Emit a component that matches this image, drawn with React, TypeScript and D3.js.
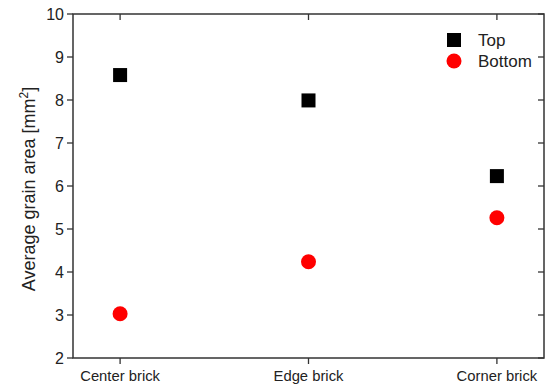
import React from "react";
import * as d3 from "d3";

const width = 545;
const height = 387;
const margin = { top: 14, right: 1, bottom: 29, left: 73 };

const categories = ["Center brick", "Edge brick", "Corner brick"];
const topValues = [8.58, 7.99, 6.23];
const bottomValues = [3.03, 4.24, 5.26];
const yTicks = [2, 3, 4, 5, 6, 7, 8, 9, 10];

const axisColor = "#333";
const font = "Arial, 'Liberation Sans', sans-serif";

export default function App() {
  const x = d3
    .scalePoint<string>()
    .domain(categories)
    .range([margin.left, width - margin.right])
    .padding(0.25);
  const y = d3
    .scaleLinear()
    .domain([2, 10])
    .range([height - margin.bottom, margin.top]);

  const x0 = margin.left;
  const x1 = width - margin.right;
  const y0 = height - margin.bottom;
  const y1 = margin.top;
  const sq = 14;

  return (
    <svg
      width={width}
      height={height}
      style={{ position: "absolute", left: 0, top: 0, background: "#fff" }}
      fontFamily={font}
    >
      {/* frame */}
      <rect
        x={x0}
        y={y1}
        width={x1 - x0}
        height={y0 - y1}
        fill="none"
        stroke={axisColor}
        strokeWidth={1.5}
      />
      {/* y ticks */}
      {yTicks.map((t) => (
        <g key={t}>
          <line x1={x0 - 6} x2={x0} y1={y(t)} y2={y(t)} stroke={axisColor} strokeWidth={1.3} />
          <line x1={x1 - 6} x2={x1} y1={y(t)} y2={y(t)} stroke={axisColor} strokeWidth={1.3} />
          <text x={x0 - 9} y={y(t)} dy="0.36em" textAnchor="end" fontSize={16} fill="#222">
            {t}
          </text>
        </g>
      ))}
      {/* x ticks */}
      {categories.map((c) => (
        <g key={c}>
          <line x1={x(c)} x2={x(c)} y1={y0} y2={y0 + 6} stroke={axisColor} strokeWidth={1.3} />
          <line x1={x(c)} x2={x(c)} y1={y1} y2={y1 + 6} stroke={axisColor} strokeWidth={1.3} />
          <text x={x(c)} y={y0 + 23} textAnchor="middle" fontSize={14.8} fill="#222">
            {c}
          </text>
        </g>
      ))}
      {/* y label */}
      <text
        transform={`translate(35 ${(y0 + y1) / 2 + 3}) rotate(-90)`}
        textAnchor="middle"
        fontSize={18}
        fill="#222"
      >
        Average grain area [mm<tspan dy="-7" fontSize={12}>2</tspan>
        <tspan dy="7">]</tspan>
      </text>
      {/* points */}
      {categories.map((c, i) => (
        <rect
          key={"t" + c}
          x={(x(c) as number) - sq / 2}
          y={y(topValues[i]) - sq / 2}
          width={sq}
          height={sq}
          fill="#000"
        />
      ))}
      {categories.map((c, i) => (
        <circle key={"b" + c} cx={x(c)} cy={y(bottomValues[i])} r={7.5} fill="#ff0000" />
      ))}
      {/* legend */}
      <rect x={454 - sq / 2} y={40 - sq / 2} width={sq} height={sq} fill="#000" />
      <text x={478} y={40} dy="0.36em" fontSize={17} fill="#222">
        Top
      </text>
      <circle cx={454} cy={61} r={7.5} fill="#ff0000" />
      <text x={478} y={61} dy="0.36em" fontSize={17} fill="#222">
        Bottom
      </text>
    </svg>
  );
}
